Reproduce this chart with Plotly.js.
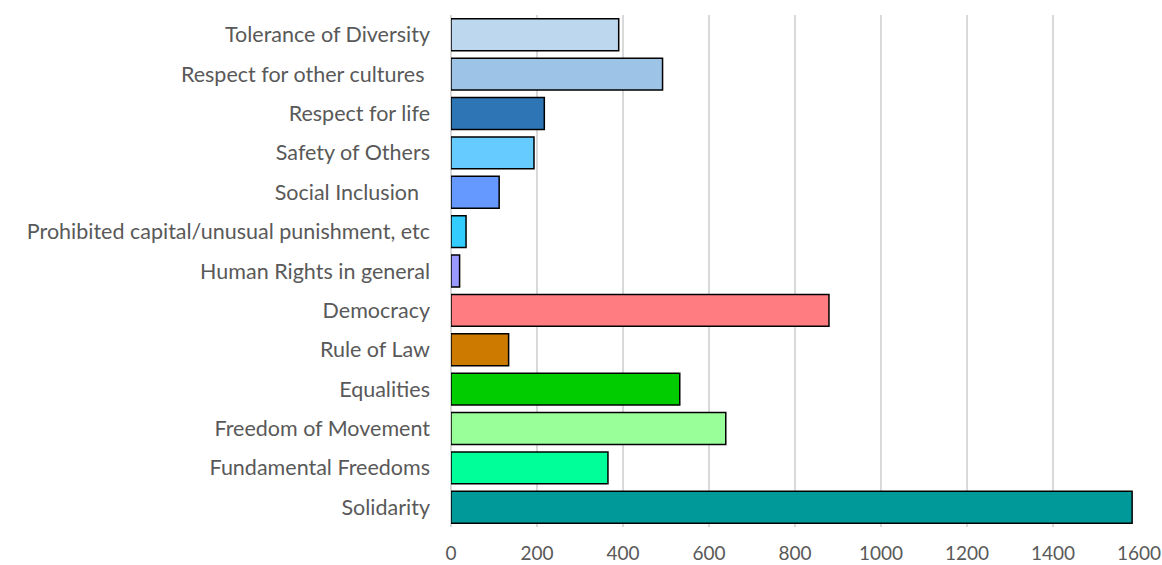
<!DOCTYPE html>
<html>
<head>
<meta charset="utf-8">
<script src="https://cdn.plot.ly/plotly-3.0.1.min.js"></script>
<style>html,body{margin:0;padding:0;background:#fff;}#chart{width:1162px;height:565px;}</style>
</head>
<body>
<div id="chart"></div>
<script>
const categories = [
  "Tolerance of Diversity",
  "Respect for other cultures ",
  "Respect for life",
  "Safety of Others",
  "Social Inclusion  ",
  "Prohibited capital/unusual punishment, etc",
  "Human Rights in general",
  "Democracy",
  "Rule of Law",
  "Equalities",
  "Freedom of Movement",
  "Fundamental Freedoms",
  "Solidarity"
];
const values = [390, 492, 217, 193, 112, 35, 20, 879, 134, 532, 639, 365, 1584];
const barColors = ["#BDD7EE", "#9DC3E6", "#2E75B6", "#66CCFF", "#6699FF", "#33CCFF", "#9999FF",
                   "#FF7C80", "#CC7A00", "#00CC00", "#99FF99", "#00FF99", "#009999"];
const xTicks = [0, 200, 400, 600, 800, 1000, 1200, 1400, 1600];

Plotly.newPlot("chart", [{
  type: "bar",
  orientation: "h",
  y: categories,
  x: values,
  marker: {color: barColors, line: {color: "#000000", width: 1.5}},
  hoverinfo: "none"
}], {
  width: 1162, height: 565,
  margin: {l: 451, r: 23, t: 15, b: 38},
  paper_bgcolor: "#ffffff", plot_bgcolor: "#ffffff",
  bargap: 0.19,
  showlegend: false,
  font: {family: "Lato, 'Open Sans', sans-serif", size: 18, color: "#595959"},
  xaxis: {
    range: [0, 1600], tickvals: xTicks, ticktext: xTicks.map(String),
    showgrid: true, gridcolor: "#D9D9D9", gridwidth: 1.5,
    zeroline: true, zerolinecolor: "#D9D9D9", zerolinewidth: 1.5,
    showline: false, ticks: "", ticklabelstandoff: 13,
    tickfont: {size: 19, color: "#595959"}
  },
  yaxis: {
    type: "category", autorange: "reversed",
    showgrid: false, zeroline: false, showline: false, ticks: "",
    ticklabelstandoff: 20,
    tickfont: {size: 21.5, color: "#595959"}
  }
}, {staticPlot: true});
</script>
</body>
</html>
